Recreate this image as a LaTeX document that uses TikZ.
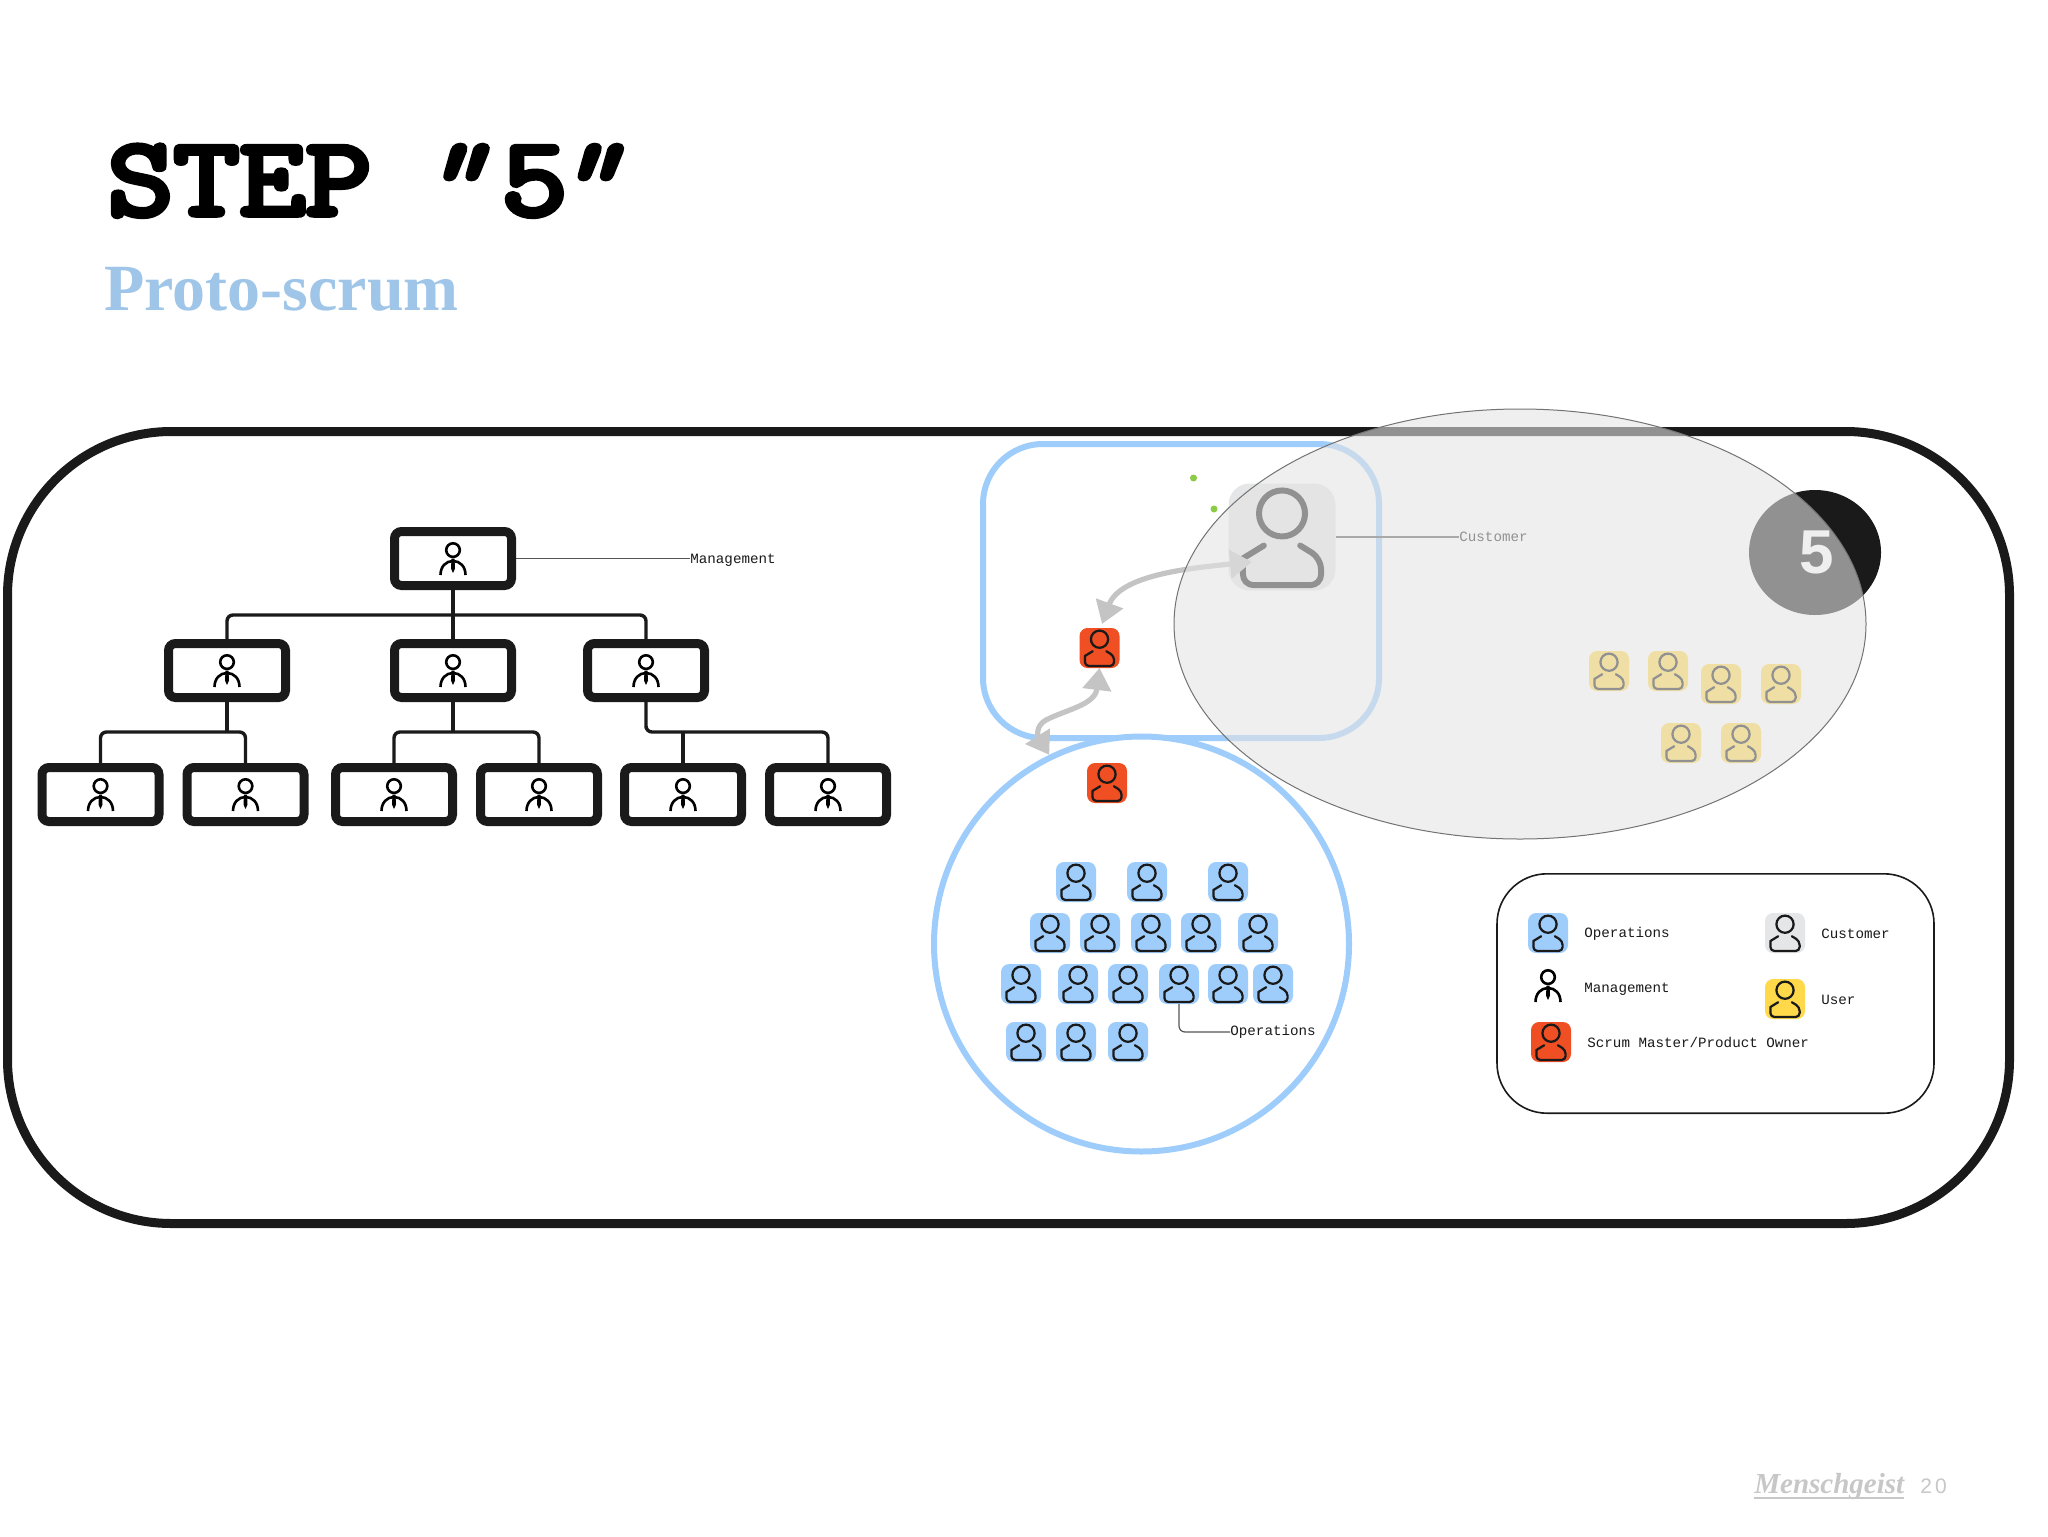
\documentclass[tikz,border=0pt]{standalone}
\usepackage{fontspec}
\usetikzlibrary{arrows.meta,shapes.geometric}
\setmainfont{Liberation Sans}
\newfontfamily\monof{Liberation Mono}
\newfontfamily\titlef[FakeBold=5]{Latin Modern Mono}
\newfontfamily\titleq[FakeBold=5,FakeSlant=.3]{Latin Modern Mono}
\newfontfamily\subf{Liberation Serif Bold}
\newfontfamily\brandf{Liberation Serif Bold Italic}
\newfontfamily\pagef[LetterSpace=15]{Liberation Sans}
\definecolor{ink}{HTML}{1A1A1A}
\definecolor{opsblue}{HTML}{9FCDFB}
\definecolor{subblue}{HTML}{9FC6E8}
\definecolor{smred}{HTML}{F04E23}
\definecolor{useryel}{HTML}{FFD94A}
\definecolor{custgray}{HTML}{E4E6E7}
\definecolor{linegray}{HTML}{555555}
\definecolor{arrowgray}{HTML}{C4C4C4}
\definecolor{veil}{HTML}{E4E4E4}
\definecolor{dotgreen}{HTML}{8CCB45}
\tikzset{
  iconbox/.style={inner sep=0pt,outer sep=0pt},
  orgbox/.style={draw=ink,fill=white,line width=4.5pt,rounded corners=3.5pt,minimum width=58.5pt,minimum height=27pt,inner sep=0pt},
  conn/.style={draw=ink,line width=1.7pt,rounded corners=3pt},
  leader/.style={draw=linegray,line width=.6pt,rounded corners=3pt},
  lbl/.style={font=\monof\fontsize{7.1}{8}\selectfont,inner sep=0pt,outer sep=.2pt,anchor=west},
  garrow/.style={draw=arrowgray,line width=2.6pt,{Triangle[length=11pt,width=14pt]}-{Triangle[length=11pt,width=14pt]}},
  greendot/.style={circle,fill=dotgreen,minimum size=3.5pt,inner sep=0pt},
}
\newcommand\ppl[6]{%
  \node[iconbox,fill=#5,minimum size=#4*.5pt,rounded corners=#4*.1pt] (#1) at (#2,#3) {};
  \begin{scope}[shift={(#2,#3)},scale=#4]
    \draw[draw=#6,line width=#4*.028pt] (0,-.22) circle (.215);
    \draw[draw=#6,line width=#4*.028pt,line cap=round,line join=round]
      (-.17,.08) -- (-.365,.2) [rounded corners=#4*.05pt] -- (-.365,.45) -- (.365,.45) -- (.365,.2) [sharp corners] -- (.17,.08);
  \end{scope}}
\newcommand\mgr[2]{%
  \begin{scope}[shift={(#1,#2)}]
    \draw[black,line width=1.3pt] (0,-8.4) circle (6.8);
    \draw[black,line width=1.3pt] (-12.5,16.5) .. controls (-12.5,8) and (-7,2.5) .. (0,2.5) .. controls (7,2.5) and (12.5,8) .. (12.5,16.5);
    \fill[black] (-1.5,0) -- (1.5,0) -- (2,10) -- (0,14.5) -- (-2,10) -- cycle;
  \end{scope}}
\begin{document}
\begin{tikzpicture}[x=.5pt,y=-.5pt]
\useasboundingbox (0,0) rectangle (2048,1536);
\fill[white] (0,0) rectangle (2048,1536);
% titles
\node[anchor=base west,inner sep=0pt,xscale=1.145,transform shape,font=\titlef\fontsize{56}{60}\selectfont] (title) at (107,215) {STEP \kern-10pt{\titleq “}\kern9pt 5\kern-8pt{\titleq ”}};
\node[anchor=base west,inner sep=0pt,text=subblue,font=\subf\fontsize{33}{36}\selectfont] (sub) at (104,310) {Proto-scrum};
% frame
\node[draw=ink,fill=white,line width=4.5pt,minimum width=1001pt,minimum height=396pt,rounded corners=82pt,inner sep=0pt] (frame) at (1008.5,827.5) {};
% org chart
\node[orgbox] (m) at (453,558.5) {};
\node[orgbox] (b1) at (227,670.5) {};
\node[orgbox] (b2) at (453,670.5) {};
\node[orgbox] (b3) at (646,670.5) {};
\node[orgbox] (c1) at (100.5,794.5) {};
\node[orgbox] (c2) at (245.5,794.5) {};
\node[orgbox] (c3) at (394,794.5) {};
\node[orgbox] (c4) at (539,794.5) {};
\node[orgbox] (c5) at (683,794.5) {};
\node[orgbox] (c6) at (828,794.5) {};
\foreach \px/\py in {453/558.5,227/670.5,453/670.5,646/670.5,100.5/794.5,245.5/794.5,394/794.5,539/794.5,683/794.5,828/794.5}{\mgr{\px}{\py}}
\coordinate (busA) at (453,615);
\coordinate (busB) at (227,732);
\coordinate (busC) at (453,732);
\coordinate (busD) at (646,732);
\draw[conn] (m.south) -- (b2.north);
\draw[conn] (b1.north) |- (busA) -| (b3.north);
\draw[conn] (b1.south) -- (busB);
\draw[conn] (c1.north) |- (busB) -| (c2.north);
\draw[conn] (b2.south) -- (busC);
\draw[conn] (c3.north) |- (busC) -| (c4.north);
\draw[conn] (b3.south) |- (busD) -| (c6.north);
\draw[conn] (c5.north) -- (c5.north |- busD);
\node[lbl,text=ink] (mlabel) at (690,560) {Management};
\draw[leader] (m.east) -- (m.east -| mlabel.west);
% scrum team frames
\node[draw=opsblue,line width=3pt,minimum width=198pt,minimum height=147pt,rounded corners=30pt,inner sep=0pt] (teamrect) at (1181,591) {};
\node[circle,draw=opsblue,fill=white,line width=3pt,minimum size=207.5pt,inner sep=0pt] (opscircle) at (1141.5,944) {};
% green dots
\node[greendot] (dotA) at (1193.5,478) {};
\node[greendot] (dotB) at (1214,509) {};
% red icons
\ppl{red1}{1099.5}{648}{40}{smred}{ink}
\ppl{red2}{1107}{783}{40}{smred}{ink}
% operations icons
\ppl{o11}{1076}{882}{40}{opsblue}{ink}
\ppl{o12}{1147}{882}{40}{opsblue}{ink}
\ppl{o13}{1228}{882}{40}{opsblue}{ink}
\ppl{o21}{1050}{933}{40}{opsblue}{ink}
\ppl{o22}{1100}{933}{40}{opsblue}{ink}
\ppl{o23}{1151}{933}{40}{opsblue}{ink}
\ppl{o24}{1201}{933}{40}{opsblue}{ink}
\ppl{o25}{1258}{933}{40}{opsblue}{ink}
\ppl{o31}{1021}{984}{40}{opsblue}{ink}
\ppl{o32}{1078}{984}{40}{opsblue}{ink}
\ppl{o33}{1128}{984}{40}{opsblue}{ink}
\ppl{o34}{1179}{984}{40}{opsblue}{ink}
\ppl{o35}{1228}{984}{40}{opsblue}{ink}
\ppl{o36}{1273}{984}{40}{opsblue}{ink}
\ppl{o41}{1026}{1042}{40}{opsblue}{ink}
\ppl{o42}{1076}{1042}{40}{opsblue}{ink}
\ppl{o43}{1128}{1042}{40}{opsblue}{ink}
\node[lbl,text=ink] (oplabel) at (1230,1032) {Operations};
\draw[leader] (o34.south) |- (oplabel.west);
% customer
\ppl{cust}{1282}{537}{107}{custgray}{ink}
\node[lbl,text=ink] (custlabel) at (1459,537) {Customer};
\draw[leader] (cust.east) -- (custlabel.west);
% arrows
\coordinate (custtip) at (1252,562);
\coordinate (redtipA) at (1102,624);
\coordinate (bendB) at (1046,720);
\draw[garrow] (custtip) .. controls (1190,568) and (1120,575) .. (redtipA);
\draw[garrow] (red1.south) .. controls (1095,705) and (1065,710) .. (bendB) .. controls (1035,726) and (1038,737) .. (opscircle.116);
% users
\ppl{u1}{1609}{671}{40}{useryel}{ink}
\ppl{u2}{1668}{671}{40}{useryel}{ink}
\ppl{u3}{1721}{684}{40}{useryel}{ink}
\ppl{u4}{1781}{684}{40}{useryel}{ink}
\ppl{u5}{1681}{743}{40}{useryel}{ink}
\ppl{u6}{1741}{743}{40}{useryel}{ink}
% step badge
\node[ellipse,fill=ink,minimum width=66pt,minimum height=62.5pt,inner sep=0pt] (badge) at (1815,552.5) {};
\node[text=white,inner sep=0pt,font=\bfseries\fontsize{31}{34}\selectfont] (badgenum) at (1817,552.5) {5};
% veil
\path[fill=veil,fill opacity=.594] (1520,624) ellipse (346 and 215);
\draw[draw=black!55,line width=.5pt] (1520,624) ellipse (346 and 215);
% legend
\node[draw=ink,fill=white,line width=.8pt,minimum width=218.5pt,minimum height=119.7pt,rounded corners=25pt,inner sep=0pt] (legend) at (1715.5,993.5) {};
\ppl{lo}{1548}{933}{40}{opsblue}{ink}
\ppl{lc}{1785}{933}{40}{custgray}{ink}
\ppl{lu}{1785}{999}{40}{useryel}{ink}
\ppl{lr}{1551}{1042}{40}{smred}{ink}
\mgr{1548}{985.5}
\node[lbl,text=ink] (t1) at (1584,934) {Operations};
\node[lbl,text=ink] (t2) at (1821,934) {Customer};
\node[lbl,text=ink] (t3) at (1584,989) {Management};
\node[lbl,text=ink] (t4) at (1821,1000) {User};
\node[lbl,text=ink] (t5) at (1587,1042) {Scrum Master/Product Owner};
% footer
\node[anchor=base west,inner sep=0pt,text=black!22,font=\brandf\fontsize{14.5}{16}\selectfont] (brand) at (1754,1493) {Menschgeist};
\draw[black!22,line width=1.2pt] (brand.base west) ++(0,5) -- ++(150,0);
\node[anchor=base west,inner sep=0pt,text=black!22,font=\pagef\fontsize{10.5}{12}\selectfont] (pageno) at (1920,1493) {20};
\end{tikzpicture}
\end{document}
